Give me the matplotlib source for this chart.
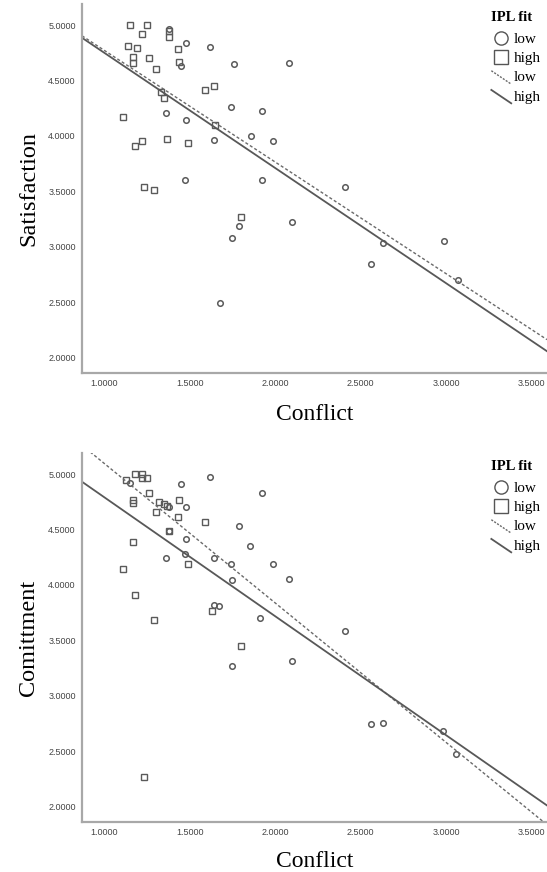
import numpy as np
import matplotlib
matplotlib.use("Agg")
from matplotlib import pyplot as plt
from matplotlib.lines import Line2D
from matplotlib.legend_handler import HandlerLine2D
from matplotlib.ticker import FormatStrFormatter

# --- data (Conflict vs outcome, split by IPL fit) ---
sat_low_x = [1.38, 1.48, 1.62, 1.76, 1.45, 1.74, 1.92, 1.36, 1.48, 1.86, 1.99, 1.64,
             2.08, 1.47, 1.92, 1.79, 1.75, 2.10, 1.68, 2.41, 2.63, 2.56, 2.99, 3.07]
sat_low_y = [4.96, 4.84, 4.80, 4.65, 4.63, 4.26, 4.22, 4.21, 4.14, 4.00, 3.95, 3.96,
             4.66, 3.60, 3.60, 3.19, 3.08, 3.22, 2.49, 3.54, 3.03, 2.84, 3.05, 2.70]
sat_high_x = [1.15, 1.25, 1.22, 1.38, 1.38, 1.14, 1.19, 1.17, 1.17, 1.26, 1.30, 1.43,
              1.44, 1.59, 1.64, 1.33, 1.35, 1.11, 1.65, 1.18, 1.22, 1.37, 1.49, 1.23,
              1.29, 1.80]
sat_high_y = [5.00, 5.00, 4.92, 4.95, 4.89, 4.81, 4.79, 4.71, 4.66, 4.70, 4.60, 4.78,
              4.67, 4.41, 4.45, 4.40, 4.34, 4.17, 4.10, 3.91, 3.95, 3.97, 3.94, 3.54,
              3.51, 3.27]

com_low_x = [1.15, 1.45, 1.62, 1.92, 1.48, 1.38, 1.38, 1.79, 1.48, 1.85, 1.36, 1.47,
             1.64, 1.74, 1.99, 2.08, 1.75, 1.64, 1.67, 1.91, 2.41, 2.10, 1.75, 2.56,
             2.63, 2.98, 3.06]
com_low_y = [4.92, 4.91, 4.97, 4.83, 4.70, 4.70, 4.49, 4.53, 4.41, 4.35, 4.24, 4.28,
             4.24, 4.19, 4.19, 4.05, 4.04, 3.82, 3.81, 3.70, 3.58, 3.31, 3.27, 2.74,
             2.75, 2.68, 2.47]
com_high_x = [1.18, 1.22, 1.22, 1.25, 1.13, 1.26, 1.17, 1.17, 1.32, 1.35, 1.37, 1.44,
              1.30, 1.43, 1.59, 1.38, 1.17, 1.11, 1.49, 1.18, 1.29, 1.63, 1.80, 1.23]
com_high_y = [5.00, 5.00, 4.96, 4.96, 4.95, 4.83, 4.77, 4.74, 4.75, 4.73, 4.71, 4.77,
              4.66, 4.61, 4.57, 4.49, 4.39, 4.14, 4.19, 3.91, 3.68, 3.76, 3.45, 2.27]

# fit lines (intercept, slope) for low / high
sat_fit_low = (5.78, -1.008)
sat_fit_high = (5.79, -1.040)
com_fit_low = (6.355, -1.259)
com_fit_high = (5.865, -1.074)

x_ticks = [1.0, 1.5, 2.0, 2.5, 3.0, 3.5]
y_ticks = [2.0, 2.5, 3.0, 3.5, 4.0, 4.5, 5.0]
x_range = (0.87, 3.59)
y_range = (1.86, 5.19)

mark_col = "#5a5a5a"
line_col = "#585858"
spine_col = "#a8a8a8"
serif = ["Liberation Serif", "DejaVu Serif"]


class SlantHandler(HandlerLine2D):
    # legend lines drawn as a short diagonal stroke
    def create_artists(self, legend, orig_handle, xdescent, ydescent,
                       width, height, fontsize, trans):
        ln = Line2D([-xdescent, -xdescent + width],
                    [height * 1.0, -ydescent - height * 0.25])
        self.update_prop(ln, orig_handle, legend)
        ln.set_marker("None")
        ln.set_transform(trans)
        return [ln]


def draw_panel(ax, lx, ly, hx, hy, fit_low, fit_high, ylabel, xlab_y):
    ax.plot(lx, ly, linestyle="none", marker="o", ms=4.0, mfc="none",
            mec=mark_col, mew=1.1)
    ax.plot(hx, hy, linestyle="none", marker="s", ms=4.6, mfc="none",
            mec=mark_col, mew=1.0)

    xs = np.linspace(x_range[0], x_range[1], 50)
    ax.plot(xs, fit_low[0] + fit_low[1] * xs, color="#6a6a6a", lw=1.0,
            linestyle=(0, (2.2, 1.6)))
    ax.plot(xs, fit_high[0] + fit_high[1] * xs, color=line_col, lw=1.3)

    ax.set_xlim(*x_range)
    ax.set_ylim(*y_range)
    ax.set_xticks(x_ticks)
    ax.set_yticks(y_ticks)
    ax.xaxis.set_major_formatter(FormatStrFormatter("%.4f"))
    ax.yaxis.set_major_formatter(FormatStrFormatter("%.4f"))
    ax.tick_params(length=0, labelsize=6.5, labelcolor="#444444", pad=4.5)
    for lab in ax.get_xticklabels() + ax.get_yticklabels():
        lab.set_fontfamily(["Liberation Sans", "DejaVu Sans"])

    for s in ["top", "right"]:
        ax.spines[s].set_visible(False)
    for s in ["left", "bottom"]:
        ax.spines[s].set_color(spine_col)
        ax.spines[s].set_linewidth(1.6)

    ax.set_xlabel("Conflict", fontsize=17, family=serif, color="black")
    ax.set_ylabel(ylabel, fontsize=17.5, family=serif, color="black")
    ax.xaxis.label.set_va("center")
    ax.yaxis.label.set_va("center")
    ax.xaxis.set_label_coords(0.5, xlab_y)
    ax.yaxis.set_label_coords(-0.114, 0.5)

    handles = [
        Line2D([], [], linestyle="none", marker="o", ms=9.5, mfc="none",
               mec="#555555", mew=1.0),
        Line2D([], [], linestyle="none", marker="s", ms=9.5, mfc="none",
               mec="#555555", mew=1.0),
        Line2D([], [], color="#6a6a6a", lw=1.0, linestyle=(0, (1.5, 1.0))),
        Line2D([], [], color=line_col, lw=1.3),
    ]
    leg = ax.legend(handles, ["low", "high", "low", "high"], title="IPL fit",
                    loc="upper right", bbox_to_anchor=(0.986, 0.981),
                    frameon=False, borderpad=0, borderaxespad=0,
                    handlelength=1.3, handletextpad=0.15, labelspacing=0.36,
                    prop={"family": serif, "size": 11},
                    handler_map={handles[2]: SlantHandler(),
                                 handles[3]: SlantHandler()})
    leg.get_title().set_fontfamily(serif)
    leg.get_title().set_fontweight("bold")
    leg.get_title().set_fontsize(10.5)
    leg._legend_box.align = "left"
    leg._legend_box.sep = 6


fig = plt.figure(figsize=(5.47, 8.72), dpi=100)
fig.patch.set_facecolor("white")

ax1 = fig.add_axes([82 / 547, 1 - 373 / 872, 465 / 547, 369 / 872])
ax2 = fig.add_axes([82 / 547, 1 - 822 / 872, 465 / 547, 369 / 872])

draw_panel(ax1, sat_low_x, sat_low_y, sat_high_x, sat_high_y,
           sat_fit_low, sat_fit_high, "Satisfaction", -0.113)
draw_panel(ax2, com_low_x, com_low_y, com_high_x, com_high_y,
           com_fit_low, com_fit_high, "Comittment", -0.106)

fig.savefig("out.png", dpi=100)
